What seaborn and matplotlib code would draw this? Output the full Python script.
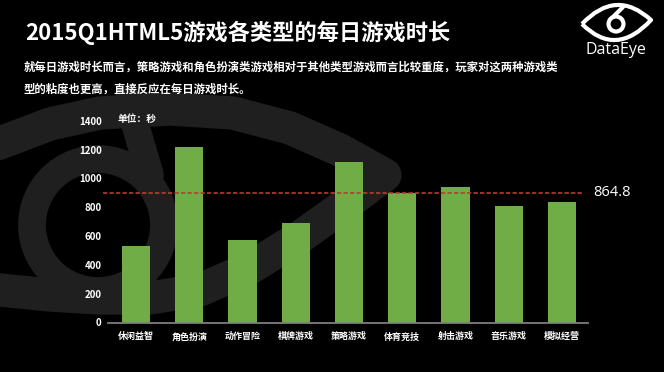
import matplotlib
matplotlib.use("Agg")
import matplotlib.pyplot as plt
import seaborn as sns
from matplotlib.path import Path
from matplotlib.patches import PathPatch, Circle

# ---- data ----
categories = ["休闲益智", "角色扮演", "动作冒险", "棋牌游戏", "策略游戏",
              "体育竞技", "射击游戏", "音乐游戏", "模拟经营"]
seconds = [530, 1217, 571, 692, 1115, 896, 942, 810, 833]
ref_line = 896          # where the dashed line sits in the picture
ref_label = "864.8"     # text printed next to it
y_ticks = [0, 200, 400, 600, 800, 1000, 1200, 1400]

title = "2015Q1HTML5游戏各类型的每日游戏时长"
subtitle_1 = "就每日游戏时长而言，策略游戏和角色扮演类游戏相对于其他类型游戏而言比较重度，玩家对这两种游戏类"
subtitle_2 = "型的粘度也更高，直接反应在每日游戏时长。"
unit_text = "单位：秒"

GREEN = "#70ad47"
RED = "#c0392b"
MARK = "#1f1f1f"

sns.set_theme(style="white")
plt.rcParams["font.family"] = ["Noto Sans CJK SC", "DejaVu Sans"]

W, H = 664, 372
fig = plt.figure(figsize=(W / 100, H / 100), dpi=100, facecolor="black")

# ---- background watermark + logo (pixel coords) ----
bg = fig.add_axes([0, 0, 1, 1], zorder=0)
bg.set_xlim(0, W)
bg.set_ylim(H, 0)
bg.set_facecolor("black")
bg.axis("off")

outline = [(-40, 160), (0, 143), (50, 124), (100, 113), (170, 109), (233, 113),
           (290, 128), (340, 150), (385, 175), (345, 205), (300, 237), (250, 268),
           (200, 290), (150, 298), (100, 298), (50, 295), (0, 290), (-40, 285)]
bg.plot([p[0] for p in outline], [p[1] for p in outline], color=MARK, lw=24,
        solid_joinstyle="round", solid_capstyle="round")
bg.add_patch(Circle((98, 225), 66, fill=False, edgecolor=MARK, lw=20))
bg.plot([150, 128], [175, 100], color=MARK, lw=20, solid_capstyle="round")

# small logo top-right
verts = [(582, 24), (616, -12), (651, 20), (616, 58), (582, 24)]
codes = [Path.MOVETO, Path.CURVE3, Path.CURVE3, Path.CURVE3, Path.CURVE3]
bg.add_patch(PathPatch(Path(verts, codes), fill=False, edgecolor="white", lw=3,
                       joinstyle="round"))
bg.add_patch(Circle((616, 24), 7.5, fill=False, edgecolor="white", lw=3))
bg.plot([613, 623], [17, 7], color="white", lw=3, solid_capstyle="round")
fig.text(616 / W, 1 - 50 / H, "DataEye", color="white", fontsize=11.5,
         ha="center", va="center", family=["Open Sans", "DejaVu Sans"])

# ---- texts ----
fig.text(25 / W, 1 - 33 / H, title, color="white", fontsize=16,
         fontweight="bold", ha="left", va="center")
fig.text(24 / W, 1 - 67 / H, subtitle_1, color="white", fontsize=8.2,
         fontweight="bold", ha="left", va="center")
fig.text(24 / W, 1 - 89 / H, subtitle_2, color="white", fontsize=8.2,
         fontweight="bold", ha="left", va="center")
fig.text(117 / W, 1 - 119 / H, unit_text, color="white", fontsize=7,
         fontweight="bold", ha="left", va="center")

# ---- chart ----
ax = fig.add_axes([108 / W, 1 - 322.5 / H, 480 / W, 201.8 / H], zorder=1)
ax.patch.set_alpha(0)
sns.barplot(x=categories, y=seconds, color=GREEN, saturation=1, width=0.53,
            edgecolor="none", linewidth=0, ax=ax, zorder=2)
ax.set_xlim(-0.526, 8.488)
ax.set_ylim(0, 1400)
ax.set_yticks(y_ticks)
ax.set_yticklabels([str(t) for t in y_ticks])
ax.set_xlabel("")
ax.set_ylabel("")
for s in ["top", "right", "left"]:
    ax.spines[s].set_visible(False)
ax.spines["bottom"].set_color("#7f7f7f")
ax.spines["bottom"].set_linewidth(1.3)
ax.tick_params(axis="y", length=0, pad=4.5, labelcolor="white", labelsize=7)
ax.tick_params(axis="x", length=0, pad=7, labelcolor="white", labelsize=6.5)
for lab in ax.get_yticklabels() + ax.get_xticklabels():
    lab.set_fontweight("bold")

ax.hlines(ref_line, -0.62, 8.37, colors=RED, linestyles=(0, (2.6, 1.3)),
          lw=1.2, clip_on=False, zorder=3)
fig.text(593 / W, 1 - 193 / H, ref_label, color="white", fontsize=10.5,
         ha="left", va="center", family=["Open Sans", "DejaVu Sans"])

fig.savefig("out.png", dpi=100, facecolor="black")
